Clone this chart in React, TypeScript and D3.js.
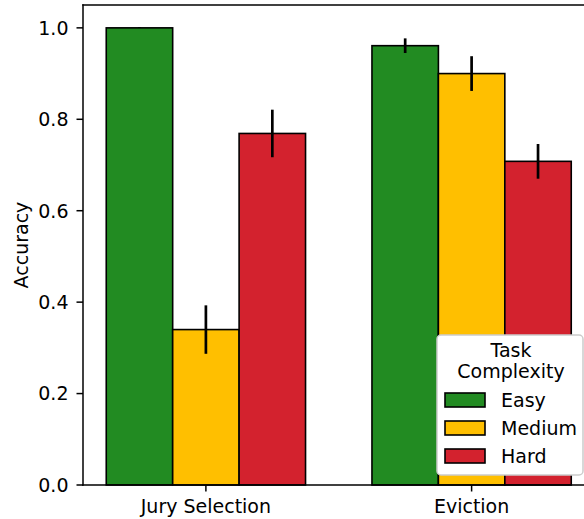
import React from "react";
import * as d3 from "d3";

const categories = ["Jury Selection", "Eviction"];
const seriesNames = ["Easy", "Medium", "Hard"];
const seriesColors = ["#228B22", "#FFBF00", "#D3222E"];
const easyValues = [1.0, 0.961];
const mediumValues = [0.34, 0.9];
const hardValues = [0.769, 0.708];
const easyErr = [0.0, 0.016];
const mediumErr = [0.053, 0.038];
const hardErr = [0.052, 0.038];
const yTicks = [0.0, 0.2, 0.4, 0.6, 0.8, 1.0];

const W = 584;
const H = 519;
const FONT = "DejaVu Sans, sans-serif";
const FS = 19;

export default function App() {
  const values = [easyValues, mediumValues, hardValues];
  const errs = [easyErr, mediumErr, hardErr];
  const left = 83;
  const right = 594.5;
  const top = 5;
  const bottom = 485;
  const x = d3.scaleLinear().domain([-0.4625, 1.4625]).range([left, right]);
  const y = d3.scaleLinear().domain([0, 1.05]).range([bottom, top]);
  const barW = 0.25;
  const offsets = [-0.25, 0, 0.25];

  const bars: any[] = [];
  const errLines: any[] = [];
  values.forEach((vals, s) => {
    vals.forEach((v, i) => {
      const cx = i + offsets[s];
      const x0 = x(cx - barW / 2);
      const x1 = x(cx + barW / 2);
      bars.push(
        <rect
          key={`b${s}-${i}`}
          x={x0}
          y={y(v)}
          width={x1 - x0}
          height={y(0) - y(v)}
          fill={seriesColors[s]}
          stroke="#000"
          strokeWidth={1.6}
        />
      );
      const e = errs[s][i];
      errLines.push(
        <line
          key={`e${s}-${i}`}
          x1={x(cx)}
          x2={x(cx)}
          y1={y(v - e)}
          y2={y(v + e) - (e === 0 ? 0.8 : 0)}
          stroke="#000"
          strokeWidth={2.7}
        />
      );
    });
  });

  const legX = 437;
  const legY = 335;
  const legW = 146;
  const legH = 140;

  return (
    <svg
      width={W}
      height={H}
      style={{ position: "absolute", left: 0, top: 0, background: "#fff" }}
      fontFamily={FONT}
    >
      <rect x={0} y={0} width={W} height={H} fill="#fff" />
      {bars}
      {errLines}
      {/* spines */}
      <line x1={left} x2={left} y1={top} y2={bottom} stroke="#000" strokeWidth={1.5} strokeLinecap="square" />
      <line x1={left} x2={right} y1={top} y2={top} stroke="#000" strokeWidth={1.5} strokeLinecap="square" />
      <line x1={left} x2={right} y1={bottom} y2={bottom} stroke="#000" strokeWidth={1.5} strokeLinecap="square" />
      <line x1={right} x2={right} y1={top} y2={bottom} stroke="#000" strokeWidth={1.5} />
      {/* y ticks */}
      {yTicks.map((t) => (
        <g key={`yt${t}`}>
          <line x1={left - 6.5} x2={left} y1={y(t)} y2={y(t)} stroke="#000" strokeWidth={1.5} />
          <text x={left - 14.5} y={y(t)} dy="0.36em" textAnchor="end" fontSize={FS} fill="#000">
            {t.toFixed(1)}
          </text>
        </g>
      ))}
      {/* x ticks */}
      {categories.map((c, i) => (
        <g key={`xt${c}`}>
          <line x1={x(i)} x2={x(i)} y1={bottom} y2={bottom + 6.5} stroke="#000" strokeWidth={1.5} />
          <text x={x(i)} y={bottom + 28} textAnchor="middle" fontSize={FS} fill="#000">
            {c}
          </text>
        </g>
      ))}
      {/* y label */}
      <text
        transform={`translate(28,${(top + bottom) / 2}) rotate(-90)`}
        textAnchor="middle"
        fontSize={FS}
        fill="#000"
      >
        Accuracy
      </text>
      {/* legend */}
      <rect x={legX} y={legY} width={legW} height={legH} rx={4} fill="#fff" stroke="#cccccc" strokeWidth={1.5} />
      <text x={legX + legW / 2 + 1} y={legY + 22} textAnchor="middle" fontSize={FS} fill="#000">
        Task
      </text>
      <text x={legX + legW / 2 + 1} y={legY + 43} textAnchor="middle" fontSize={FS} fill="#000">
        Complexity
      </text>
      {seriesNames.map((n, s) => {
        const cy = 400 + s * 28;
        return (
          <g key={`lg${n}`}>
            <rect x={445} y={cy - 7} width={40} height={14} fill={seriesColors[s]} stroke="#000" strokeWidth={1.6} />
            <text x={501} y={cy} dy="0.36em" fontSize={FS} fill="#000">
              {n}
            </text>
          </g>
        );
      })}
    </svg>
  );
}
